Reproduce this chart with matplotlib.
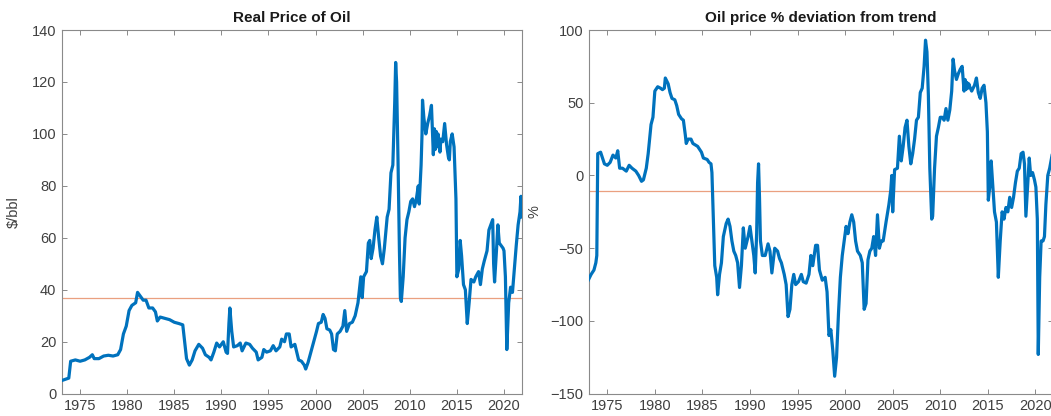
import matplotlib
matplotlib.use("Agg")
import matplotlib.pyplot as plt
from matplotlib.ticker import FixedLocator

plt.rcParams['font.family'] = ['Liberation Sans', 'DejaVu Sans']

# Real price of oil, $/bbl
price_t = [1973.0, 1973.8, 1974.0, 1974.5, 1975.0, 1975.5, 1976.0, 1976.3, 1976.5, 1977.0,
           1977.5, 1978.0, 1978.5, 1979.0, 1979.3, 1979.6, 1979.9, 1980.2, 1980.5, 1980.9,
           1981.1, 1981.4, 1981.7, 1982.0, 1982.3, 1982.7, 1983.0, 1983.2, 1983.5, 1984.0,
           1984.5, 1985.0, 1985.5, 1985.9, 1986.1, 1986.3, 1986.6, 1986.9, 1987.2, 1987.6,
           1988.0, 1988.3, 1988.7, 1988.9, 1989.2, 1989.5, 1989.8, 1990.2, 1990.5, 1990.65,
           1990.8, 1990.9, 1991.1, 1991.3, 1991.7, 1992.0, 1992.2, 1992.6, 1993.0, 1993.3,
           1993.7, 1993.9, 1994.3, 1994.5, 1994.8, 1995.2, 1995.5, 1995.8, 1996.2, 1996.4,
           1996.7, 1996.9, 1997.2, 1997.4, 1997.8, 1998.0, 1998.2, 1998.5, 1998.8, 1998.95,
           1999.2, 1999.5, 1999.8, 2000.1, 2000.3, 2000.6, 2000.8, 2001.0, 2001.2, 2001.5,
           2001.7, 2001.9, 2002.1, 2002.3, 2002.6, 2002.9, 2003.1, 2003.3, 2003.6, 2003.9,
           2004.2, 2004.5, 2004.8, 2004.95, 2005.1, 2005.4, 2005.6, 2005.75, 2005.9, 2006.1,
           2006.3, 2006.5, 2006.7, 2006.9, 2007.1, 2007.3, 2007.6, 2007.8, 2008.0, 2008.2,
           2008.4, 2008.5, 2008.6, 2008.75, 2008.9, 2009.0, 2009.1, 2009.3, 2009.5, 2009.7,
           2009.9, 2010.1, 2010.3, 2010.5, 2010.7, 2010.9, 2011.0, 2011.2, 2011.3, 2011.35,
           2011.5, 2011.7, 2011.9, 2012.1, 2012.3, 2012.5, 2012.6, 2012.7, 2012.8, 2012.9,
           2013.0, 2013.1, 2013.2, 2013.3, 2013.5, 2013.7, 2013.9, 2014.1, 2014.2, 2014.3,
           2014.5, 2014.7, 2014.9, 2015.0, 2015.2,
           2015.35, 2015.5, 2015.7, 2015.9, 2016.1, 2016.3, 2016.5, 2016.8, 2017.0, 2017.3,
           2017.5, 2017.7, 2017.9, 2018.2, 2018.4, 2018.6, 2018.8, 2018.9, 2019.0, 2019.2,
           2019.35, 2019.5, 2019.7, 2019.9, 2020.0, 2020.15, 2020.3, 2020.5, 2020.7, 2020.9,
           2021.1, 2021.3, 2021.5, 2021.7, 2021.8, 2021.9]
price = [5, 6, 12.5, 13, 12.5, 13, 14, 15, 13.5, 13.5,
         14.5, 14.8, 14.5, 15, 17, 23, 26, 32, 34, 35,
         39, 37.5, 36, 36, 33, 33, 31.5, 28, 29.5, 29,
         28.5, 27.5, 27, 26.5, 20, 13.5, 11, 13, 16.5, 19,
         17.5, 15, 14, 13, 16, 19.5, 18, 20, 16, 15.5,
         27, 33, 24, 18, 18.5, 19.5, 16.5, 19.5, 19, 17.5,
         16, 13, 14, 17, 16, 16.5, 18.5, 16.5, 18, 21,
         20, 23, 23, 18, 19, 16, 13, 12.5, 11, 9.5,
         12, 16, 20, 24, 27, 27.5, 30.5, 29, 25, 24.5,
         23, 17, 16.5, 23, 24, 26, 32, 24, 27, 27.5,
         30, 35, 45, 37, 45, 47, 58, 59, 52, 56,
         63, 68, 60, 53, 50, 56, 68, 71, 85, 88,
         112, 127.5, 120, 90, 55, 37, 35.5, 45, 60, 67,
         70, 74, 75, 72, 75, 80, 73, 88, 100, 113,
         106, 100, 104, 107, 111, 92, 102, 94, 101, 95,
         100, 97, 93, 98, 97, 104, 96, 91, 90, 97,
         100, 95, 75, 45, 48,
         59, 53, 42, 40, 27, 35, 44, 43, 45, 47,
         42, 48, 51, 55, 63, 65, 67, 50, 43, 55,
         65, 58, 57, 56, 55, 45, 17, 35, 41, 39,
         48, 57, 65, 70, 76, 68]
price_mean = 37.0

# Oil price, % deviation from trend
dev_t = [1973.0, 1973.3, 1973.6, 1973.8, 1973.9, 1974.0, 1974.3, 1974.7, 1975.0, 1975.3,
         1975.6, 1975.9, 1976.1, 1976.3, 1976.6, 1977.0, 1977.3, 1977.6, 1978.0, 1978.3,
         1978.6, 1978.8, 1979.1, 1979.3, 1979.6, 1979.8, 1980.0, 1980.3, 1980.6, 1980.8,
         1981.0, 1981.1, 1981.4, 1981.6, 1981.8, 1982.1, 1982.3, 1982.5, 1982.8, 1983.0,
         1983.2, 1983.3, 1983.5, 1983.8, 1984.0, 1984.5, 1984.9, 1985.1, 1985.5, 1985.7,
         1985.9, 1986.0, 1986.1, 1986.3, 1986.5, 1986.6, 1986.8, 1987.0, 1987.2, 1987.5,
         1987.7, 1987.9, 1988.1, 1988.3, 1988.5, 1988.7, 1988.9, 1989.1, 1989.3, 1989.5,
         1989.8, 1990.0, 1990.2, 1990.4, 1990.55, 1990.7, 1990.8, 1990.9, 1991.0, 1991.1,
         1991.3, 1991.6, 1991.9, 1992.1, 1992.3, 1992.6, 1992.9, 1993.1, 1993.3, 1993.6,
         1993.8, 1994.0, 1994.2, 1994.4, 1994.6, 1994.8, 1995.1, 1995.4, 1995.6, 1995.9,
         1996.2, 1996.4, 1996.6, 1996.9, 1997.1, 1997.3, 1997.6, 1997.9, 1998.1, 1998.3,
         1998.5, 1998.7, 1998.9, 1999.1, 1999.3, 1999.5, 1999.7, 1999.9, 2000.1, 2000.3,
         2000.5, 2000.7, 2000.9, 2001.1, 2001.3, 2001.6, 2001.8, 2002.0, 2002.2, 2002.4,
         2002.6, 2002.8, 2003.0, 2003.2, 2003.4, 2003.6, 2003.8, 2004.0, 2004.3, 2004.6,
         2004.8, 2004.9, 2005.0, 2005.2, 2005.5, 2005.7, 2005.9, 2006.1, 2006.3, 2006.5,
         2006.7, 2006.9, 2007.1, 2007.3, 2007.5, 2007.7, 2007.9, 2008.1, 2008.3, 2008.45,
         2008.6, 2008.75, 2008.9, 2009.1, 2009.2, 2009.4, 2009.6, 2009.8, 2010.0, 2010.2,
         2010.4, 2010.6, 2010.8, 2011.0, 2011.2, 2011.35, 2011.5, 2011.7, 2011.9, 2012.1,
         2012.3, 2012.5, 2012.6, 2012.7, 2012.8, 2012.9, 2013.0, 2013.1, 2013.3, 2013.6,
         2013.8, 2014.0, 2014.2,
         2014.4, 2014.6, 2014.8, 2014.95, 2015.05, 2015.2, 2015.35, 2015.5, 2015.7, 2015.9,
         2016.1, 2016.3, 2016.5, 2016.7, 2016.9, 2017.1, 2017.3, 2017.5, 2017.7, 2017.9,
         2018.1, 2018.3, 2018.5, 2018.7, 2018.85, 2019.0, 2019.2, 2019.35, 2019.5, 2019.7,
         2019.9, 2020.05, 2020.2, 2020.3, 2020.45, 2020.6, 2020.8, 2020.95, 2021.1, 2021.3,
         2021.5, 2021.7, 2021.9]
dev = [-72, -68, -65, -60, -55, 15, 16, 8, 7, 9,
       14, 12, 17, 5, 5, 3, 7, 5, 3, 0,
       -4, -3, 5, 15, 35, 40, 58, 61, 60, 59,
       60, 67, 63, 57, 53, 52, 48, 42, 39, 38,
       28, 22, 25, 25, 22, 20, 16, 12, 11, 9,
       8, 2, -20, -62, -70, -82, -68, -60, -42, -33,
       -30, -35, -45, -52, -55, -60, -77, -62, -36, -50,
       -42, -35, -45, -55, -67, -40, -5, 8, -15, -45,
       -55, -55, -47, -52, -67, -50, -52, -57, -60, -68,
       -75, -97, -92, -75, -68, -75, -73, -68, -73, -74,
       -68, -55, -62, -48, -48, -65, -72, -70, -80, -110,
       -106, -120, -138, -125, -95, -70, -55, -45, -35, -40,
       -32, -27, -32, -45, -52, -55, -60, -92, -88, -58,
       -52, -50, -42, -55, -27, -50, -45, -45, -32, -20,
       -10, 0, -25, 4, 5, 27, 10, 20, 33, 38,
       20, 8, 15, 25, 38, 40, 57, 60, 75, 93,
       85, 55, 5, -30, -28, 5, 27, 33, 40, 40,
       38, 46, 38, 45, 58, 80, 72, 66, 70, 73,
       75, 58, 66, 59, 64, 60, 63, 61, 58, 62,
       67, 57, 53,
       60, 62, 50, 30, -17, -8, 10, -5, -25, -32,
       -70, -45, -25, -30, -22, -25, -15, -22, -15, -5,
       3, 5, 15, 16, 8, -28, -5, 12, 0, 2,
       -3, -8, -30, -123, -70, -45, -45, -42, -20, 0,
       5, 12, 20]
dev_mean = -11.0

BLUE = '#0072BD'
ORANGE = '#D95319'
TXT = '#404040'
SPINE = '#8a8a8a'
XLIM = (1973.08, 2021.88)
XTICKS = list(range(1975, 2021, 5))

fig = plt.figure(figsize=(10.51, 4.16), dpi=100)
ax1 = fig.add_axes([62 / 1051, 22.3 / 416, 459.7 / 1051, 363.7 / 416])
ax2 = fig.add_axes([589 / 1051, 22.3 / 416, 464.3 / 1051, 363.7 / 416])


def style(ax, yticks, ylim):
    ax.set_xlim(*XLIM)
    ax.set_ylim(*ylim)
    ax.xaxis.set_major_locator(FixedLocator(XTICKS))
    ax.yaxis.set_major_locator(FixedLocator(yticks))
    ax.tick_params(direction='in', length=3.5, width=0.7, color=SPINE,
                   labelcolor=TXT, labelsize=10.5, top=True, right=True,
                   pad=4)
    for sp in ax.spines.values():
        sp.set_color(SPINE)
        sp.set_linewidth(0.8)


ax1.plot(price_t, price, color=BLUE, lw=2.3, solid_joinstyle='round', zorder=3)
ax1.axhline(price_mean, color=ORANGE, lw=0.9, alpha=0.55, zorder=2)
style(ax1, range(0, 141, 20), (0, 140))
ax1.set_title('Real Price of Oil', fontsize=11, fontweight='bold', color='#1a1a1a', pad=6)
ax1.set_ylabel('$/bbl', fontsize=10.5, color=TXT, labelpad=8)

ax2.plot(dev_t, dev, color=BLUE, lw=2.3, solid_joinstyle='round', zorder=3)
ax2.axhline(dev_mean, color=ORANGE, lw=0.9, alpha=0.55, zorder=2)
style(ax2, range(-150, 101, 50), (-150, 100))
ax2.set_title('Oil price % deviation from trend', fontsize=11, fontweight='bold',
              color='#1a1a1a', pad=6)
ax2.set_ylabel('%', fontsize=10.5, color=TXT, labelpad=6)

fig.savefig('out.png', dpi=100)
